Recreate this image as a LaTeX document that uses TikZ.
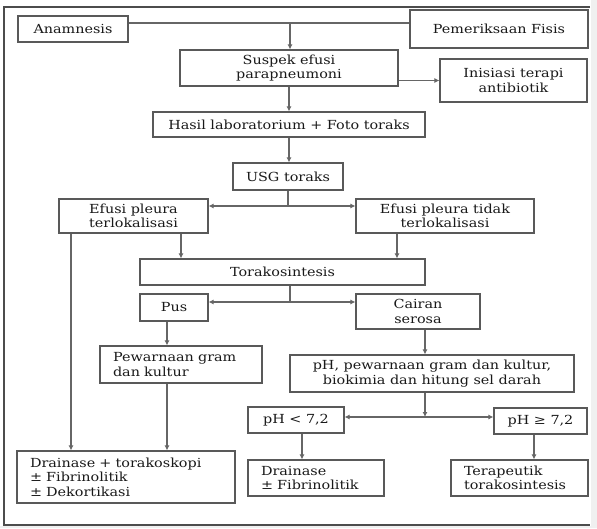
\documentclass[tikz,border=0pt]{standalone}
\usepackage{fontspec}
\setmainfont{DejaVu Serif}[FakeStretch=1.15]
\usetikzlibrary{arrows.meta}
\tikzset{
  box/.style={draw=black!65, line width=1.1pt, fill=white, align=center,
    inner sep=2pt, text=black!90, font=\fontsize{12.5}{14.5}\selectfont},
  lbox/.style={box, align=left, inner xsep=13pt},
  link/.style={draw=black!60, line width=1.3pt},
  arr/.style={link, -{Latex[length=5pt,width=5pt]}},
}

\begin{document}
\begin{tikzpicture}[x=1pt,y=-1pt]
  \useasboundingbox (0,0) rectangle (597,528);
  \fill[white] (0,0) rectangle (597,528);
  \fill[black!6] (591,0) rectangle (597,528) (0,526) rectangle (597,528);
  \draw[black!70, line width=1.2pt] (590,7) -- (4,7) -- (4,525) -- (590,525);

  % top row
  \node[box, minimum width=110, minimum height=26] (anam) at (73,29) {Anamnesis};
  \node[box, minimum width=178, minimum height=38] (fisis) at (499,29) {Pemeriksaan Fisis};
  \node[box, minimum width=218, minimum height=36] (suspek) at (289,68)
    {Suspek efusi\\parapneumoni};
  \node[box, minimum width=147, minimum height=43] (inisiasi) at (513.5,80.5)
    {Inisiasi terapi\\antibiotik};
  \node[box, minimum width=272, minimum height=25] (hasil) at (289,124.5)
    {Hasil laboratorium + Foto toraks};
  \node[box, minimum width=110, minimum height=27] (usg) at (288,176.5) {USG toraks};
  \node[box, minimum width=149, minimum height=34] (eplok) at (133.5,216)
    {Efusi pleura\\terlokalisasi};
  \node[box, minimum width=178, minimum height=34] (eptidak) at (445,216)
    {Efusi pleura tidak\\terlokalisasi};
  \node[box, minimum width=285, minimum height=26] (torak) at (282.5,272) {Torakosintesis};
  \node[box, minimum width=68, minimum height=27] (pus) at (174,307.5) {Pus};
  \node[box, minimum width=124, minimum height=35] (serosa) at (418,311.5)
    {Cairan\\serosa};
  \node[lbox, minimum height=37, text width=136] (gram) at (181,364.5)
    {Pewarnaan gram\\dan kultur};
  \node[box, minimum width=284, minimum height=37] (ph) at (432,373.5)
    {pH, pewarnaan gram dan kultur,\\biokimia dan hitung sel darah};
  \node[box, minimum width=96, minimum height=26] (phlow) at (296,420) {pH < 7,2};
  \node[box, minimum width=93, minimum height=26] (phhigh) at (540.5,421) {pH ≥ 7,2};
  \node[lbox, minimum height=52, text width=192] (drain) at (126,477)
    {Drainase + torakoskopi\\± Fibrinolitik\\± Dekortikasi};
  \node[lbox, minimum height=36, text width=110] (drainfib) at (316,478)
    {Drainase\\± Fibrinolitik};
  \node[lbox, minimum height=36, text width=111] (terap) at (519.5,478)
    {Terapeutik\\torakosintesis};

  % splits
  \coordinate (top) at (290,23);
  \coordinate (split1) at (288,206);
  \coordinate (split2) at (290,302);
  \coordinate (split3) at (425,417);

  \draw[link] (anam.east |- top) -- (fisis.west |- top);
  \draw[arr] (top) -- (suspek.north -| top);
  \draw[arr] (suspek.east |- inisiasi.west) -- (inisiasi.west);
  \draw[link] (usg.south) -- (split1);
  \draw[arr] (split1) -- (split1 -| eplok.east);
  \draw[arr] (split1) -- (split1 -| eptidak.west);
  \draw[link] (split2 |- torak.south) -- (split2);
  \draw[arr] (split2) -- (split2 -| pus.east);
  \draw[arr] (split2) -- (split2 -| serosa.west);
  \draw[arr] (split3 |- ph.south) -- (split3);
  \draw[arr] (split3) -- (split3 -| phlow.east);
  \draw[arr] (split3) -- (split3 -| phhigh.west);
  \foreach \x/\a/\b in {289/suspek/hasil, 289/hasil/usg, 71/eplok/drain,
      181/eplok/torak, 397/eptidak/torak, 167/pus/gram, 167/gram/drain,
      425/serosa/ph, 302/phlow/drainfib, 534/phhigh/terap}{
    \draw[arr] (\x,0 |- \a.south) -- (\x,0 |- \b.north);
  }
\end{tikzpicture}
\end{document}
